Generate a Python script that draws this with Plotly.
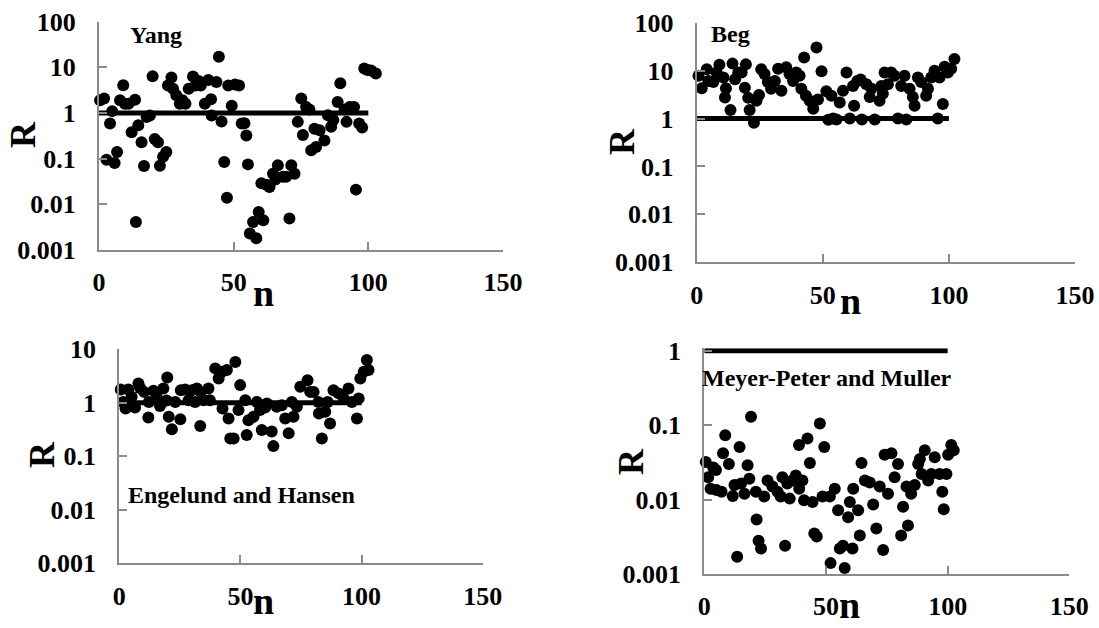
import plotly.graph_objects as go

# ---------------- data ----------------
n_yang = [0.4, 1.9, 2.8, 4.1, 4.9, 5.8, 6.7, 7.8, 9.0, 9.6, 11.0, 12.1, 13.4, 13.7, 14.6, 15.8, 16.7, 17.7, 18.9, 19.9,
          20.7, 21.9, 22.6, 23.8, 25.0, 25.6, 26.9, 27.5, 28.7, 30.0, 31.0, 32.1, 33.3, 34.9, 35.8, 37.0, 37.8, 39.3,
          40.6, 41.6, 41.8, 43.6, 44.5, 45.5, 46.5, 47.5, 48.0, 49.3, 50.5, 52.0, 53.0, 54.0, 54.7, 55.3, 56.0, 57.2,
          58.4, 59.3, 60.3, 61.0, 62.1, 63.3, 64.6, 65.5, 66.4, 68.3, 69.5, 70.7, 71.4, 72.6, 73.8, 75.1, 75.7, 76.9,
          78.1, 78.8, 80.0, 80.6, 81.9, 83.7, 85.0, 86.2, 87.0, 88.6, 89.6, 91.2, 91.9, 93.1, 94.7, 95.4, 96.6, 97.7,
          98.5, 99.7, 101.0, 102.8]
r_yang = [1.9, 2.07, 0.095, 0.59, 1.1, 0.08, 0.14, 1.9, 4.05, 1.6, 1.6, 0.38, 1.96, 0.0041, 0.54, 0.23, 0.069, 0.82,
          0.88, 6.4, 0.27, 0.23, 0.07, 0.11, 0.14, 4.0, 6.0, 3.4, 2.44, 1.6, 1.9, 1.6, 3.4, 6.3, 4.0, 5.0, 4.0, 1.6,
          5.3, 2.0, 0.88, 4.8, 17, 0.65, 0.085, 0.014, 4.0, 1.45, 4.2, 4.0, 0.59, 0.6, 0.32, 0.075, 0.0023, 0.0041,
          0.0018, 0.0068, 0.029, 0.0045, 0.027, 0.024, 0.047, 0.035, 0.072, 0.04, 0.04, 0.0049, 0.072, 0.047, 0.64,
          2.07, 0.33, 1.35, 1.2, 0.153, 0.45, 0.18, 0.42, 0.25, 0.89, 0.5, 0.7, 1.74, 4.5, 1.2, 0.64, 1.35, 1.35,
          0.021, 0.59, 0.48, 9.4, 8.7, 8.5, 7.3]

n_beg = [0.7, 2.0, 4.0, 4.6, 6.6, 7.9, 9.0, 10.6, 11.2, 11.6, 13.4, 14.2, 15.2, 16.5, 17.8, 19.1, 19.5, 20.4, 21.0,
         22.7, 23.7, 24.7, 25.6, 26.9, 28.2, 29.5, 31.0, 32.3, 33.6, 35.5, 36.8, 38.2, 39.5, 40.8, 41.5, 42.6, 43.3,
         44.8, 46.2, 47.5, 48.1, 49.5, 51.4, 52.2, 53.4, 54.1, 55.4, 56.7, 58.0, 59.4, 60.7, 62.0, 62.4, 63.7, 65.0,
         65.5, 67.3, 68.6, 69.3, 70.6, 72.5, 73.2, 73.8, 74.5, 75.8, 77.1, 78.4, 79.8, 81.1, 82.4, 83.1, 84.4, 85.7,
         86.4, 87.7, 89.0, 91.0, 91.7, 93.0, 94.3, 95.6, 96.3, 97.6, 98.3, 99.6, 100.9, 102.2]
r_beg = [7.8, 4.3, 10.7, 6.1, 5.8, 9.1, 13.2, 7.2, 2.74, 4.3, 1.5, 14, 6.6, 9.1, 9.1, 4.4, 13.5, 2.7, 1.5, 0.82, 2.34,
         3.1, 10.7, 8.5, 5.8, 4.2, 6.1, 11, 3.8, 11.7, 8.5, 6.1, 9.1, 7.8, 4.2, 18.8, 3.0, 2.34, 1.6, 30.4, 2.5, 9.7,
         3.7, 0.94, 3.0, 1.0, 0.96, 2.16, 3.8, 9.1, 1.0, 4.8, 1.84, 6.1, 6.5, 0.96, 5.2, 2.8, 4.2, 0.96, 2.34, 4.8,
         3.3, 9.1, 5.2, 9.1, 7.8, 1.0, 4.8, 7.8, 0.96, 4.2, 2.8, 1.84, 7.2, 5.8, 3.0, 4.2, 7.2, 9.9, 1.0, 7.2, 2.0,
         12, 9.1, 11, 17.4]

n_eh = [0.6, 1.6, 2.6, 3.7, 5.1, 6.5, 7.9, 8.6, 10.2, 12.0, 12.2, 14.1, 15.4, 16.8, 18.2, 19.8, 19.5, 20.4, 21.7,
        23.1, 25.2, 25.4, 27.2, 28.6, 30.0, 31.3, 32.0, 33.4, 33.6, 34.8, 36.8, 37.4, 39.6, 41.0, 42.4, 42.6, 44.4,
        45.1, 45.8, 47.2, 47.9, 49.2, 49.9, 52.0, 52.6, 53.3, 55.4, 56.8, 58.1, 58.8, 60.2, 60.9, 62.9, 63.6, 65.0,
        67.1, 68.5, 69.9, 71.2, 71.9, 73.3, 74.7, 77.7, 78.8, 80.2, 82.2, 82.4, 83.6, 85.0, 86.0, 87.0, 88.4, 90.5,
        92.6, 94.6, 96.0, 98.1, 98.8, 99.5, 100.9, 102.2, 102.9]
r_eh = [1.77, 1.04, 0.78, 1.77, 1.3, 0.82, 2.3, 1.9, 1.6, 0.53, 1.04, 1.68, 1.3, 0.87, 1.85, 2.97, 1.1, 0.55, 0.32,
        1.04, 0.49, 1.72, 1.77, 1.12, 1.72, 1.04, 1.85, 0.37, 1.6, 1.12, 1.85, 1.12, 4.4, 2.85, 3.8, 0.78, 4.1, 0.51,
        0.215, 0.215, 5.8, 0.73, 2.14, 1.12, 0.25, 0.47, 0.55, 1.04, 0.73, 0.31, 0.82, 0.97, 0.29, 0.155, 0.84, 0.9,
        0.51, 0.27, 1.04, 0.55, 0.84, 2.0, 2.65, 1.6, 1.6, 1.04, 0.63, 0.215, 0.68, 1.04, 0.41, 1.72, 1.5, 1.2, 1.85,
        1.04, 0.51, 1.2, 2.85, 3.8, 6.3, 4.1]

n_mpm = [0.6, 1.6, 2.6, 3.7, 4.8, 5.0, 7.1, 7.7, 8.6, 10.1, 11.7, 12.4, 13.5, 14.5, 15.1, 16.5, 17.8, 18.5, 19.2,
         21.2, 21.5, 22.3, 23.3, 24.6, 26.0, 28.0, 30.1, 31.4, 32.1, 33.2, 34.1, 35.1, 36.2, 37.6, 38.9, 39.0, 40.3,
         41.0, 42.4, 43.4, 44.5, 45.2, 46.2, 47.5, 48.6, 49.3, 51.6, 51.9, 53.6, 55.0, 55.7, 57.0, 57.7, 59.1, 59.8,
         60.9, 61.2, 63.2, 63.9, 64.6, 66.0, 68.0, 69.4, 70.7, 72.1, 73.5, 74.1, 75.5, 76.9, 78.2, 79.6, 80.9, 81.7,
         83.1, 83.7, 85.0, 86.5, 87.9, 88.6, 89.3, 90.6, 92.0, 93.3, 94.7, 96.7, 97.8, 98.4, 99.5, 100.2, 101.5, 102.5]
r_mpm = [0.032, 0.020, 0.014, 0.027, 0.025, 0.0134, 0.0127, 0.042, 0.073, 0.030, 0.0112, 0.0157, 0.0017, 0.051,
         0.0164, 0.012, 0.029, 0.019, 0.13, 0.0127, 0.0054, 0.0028, 0.0022, 0.011, 0.018, 0.015, 0.0127, 0.011,
         0.020, 0.0024, 0.0164, 0.0103, 0.018, 0.021, 0.054, 0.014, 0.018, 0.0098, 0.066, 0.031, 0.0093, 0.0035,
         0.0032, 0.105, 0.011, 0.051, 0.011, 0.0014, 0.014, 0.0072, 0.0022, 0.0024, 0.0012, 0.0058, 0.0093, 0.0022,
         0.014, 0.0072, 0.0033, 0.031, 0.018, 0.017, 0.0086, 0.0041, 0.015, 0.0021, 0.040, 0.012, 0.042, 0.020,
         0.030, 0.0033, 0.0080, 0.015, 0.0045, 0.012, 0.0157, 0.030, 0.035, 0.022, 0.046, 0.018, 0.022, 0.037,
         0.022, 0.0127, 0.0074, 0.022, 0.040, 0.054, 0.046]

ref_n = [0, 100]
ref_r = [1, 1]

x_ticks = [0, 50, 100, 150]
y_ticks_5 = [0.001, 0.01, 0.1, 1, 10, 100]
y_text_5 = ["0.001", "0.01", "0.1", "1", "10", "100"]
y_ticks_4 = [0.001, 0.01, 0.1, 1, 10]
y_text_4 = ["0.001", "0.01", "0.1", "1", "10"]
y_ticks_3 = [0.001, 0.01, 0.1, 1]
y_text_3 = ["0.001", "0.01", "0.1", "1"]

titles = ["Yang", "Beg", "Engelund and Hansen", "Meyer-Peter and Muller"]

# ---------------- layout helpers ----------------
W, H = 1099, 628
FONT = "Liberation Serif"
AX = "#8a8a8a"


def fx(p):
    return p / W


def fy(p):
    return 1 - p / H


# panel boxes in pixels: left, right, top, bottom
boxes = [(99, 503, 21.7, 250), (696.7, 1075, 22.7, 262.3),
         (119.3, 482.7, 349.3, 563.3), (704.3, 1069.3, 348.2, 574)]
yranges = [(-3, 2), (-3, 2), (-3, 1), (-3, 0.034)]
yt = [(y_ticks_5, y_text_5), (y_ticks_5, y_text_5), (y_ticks_4, y_text_4), (y_ticks_3, y_text_3)]
series = [(n_yang, r_yang), (n_beg, r_beg), (n_eh, r_eh), (n_mpm, r_mpm)]

fig = go.Figure()
layout = dict(width=W, height=H, autosize=False,
              margin=dict(l=0, r=0, t=0, b=0, pad=0, autoexpand=False),
              paper_bgcolor="white", plot_bgcolor="white", showlegend=False)

tickfont = dict(family=FONT, size=26, color="black", weight="bold")

for i, ((l, r, t, b), yr, (tv, tt), (xs, ys)) in enumerate(zip(boxes, yranges, yt, series)):
    k = "" if i == 0 else str(i + 1)
    layout["xaxis" + k] = dict(domain=[fx(l), fx(r)], anchor="y" + k, range=[0, 150], automargin=False,
                               tickvals=x_ticks, ticktext=[str(v) for v in x_ticks],
                               showgrid=False, zeroline=False, showline=True, linecolor=AX, linewidth=2,
                               ticks="inside", ticklen=8, tickwidth=2, tickcolor=AX,
                               tickfont=tickfont, ticklabelstandoff=8)
    layout["yaxis" + k] = dict(domain=[fy(b), fy(t)], anchor="x" + k, type="log", range=list(yr),
                               automargin=False, tickvals=tv, ticktext=tt,
                               showgrid=False, zeroline=False, showline=True, linecolor=AX, linewidth=2,
                               ticks="inside", ticklen=8, tickwidth=2, tickcolor=AX,
                               tickfont=tickfont, ticklabelstandoff=16)
    fig.add_trace(go.Scatter(x=ref_n, y=ref_r, mode="lines", line=dict(color="black", width=5),
                             xaxis="x" + k, yaxis="y" + k, cliponaxis=False, hoverinfo="skip"))
    fig.add_trace(go.Scatter(x=xs, y=ys, mode="markers", marker=dict(color="black", size=12),
                             xaxis="x" + k, yaxis="y" + k, cliponaxis=False))

ann = []
# panel titles (left edge, vertical centre in px)
for txt, (px, py) in zip(titles, [(128, 35), (709, 34), (126, 495), (700, 378)]):
    ann.append(dict(text=txt, x=fx(px), y=fy(py), xref="paper", yref="paper", xanchor="left", yanchor="middle",
                    showarrow=False, font=dict(family=FONT, size=24, color="black", weight="bold")))
# R labels
for (px, py) in [(23, 135), (622, 142), (42, 455), (631, 462)]:
    ann.append(dict(text="R", x=fx(px), y=fy(py), xref="paper", yref="paper", xanchor="center", yanchor="middle",
                    textangle=-90, showarrow=False, font=dict(family=FONT, size=36, color="black", weight="bold")))
# n labels (x centre, bottom edge of text box in px)
for (px, py) in [(263, 316), (850, 324), (263, 624), (849, 628)]:
    ann.append(dict(text="n", x=fx(px), y=fy(py), xref="paper", yref="paper", xanchor="center", yanchor="bottom",
                    showarrow=False, font=dict(family=FONT, size=38, color="black", weight="bold")))
layout["annotations"] = ann

fig.update_layout(**layout)
fig.write_html("out.html", config={"displayModeBar": False},
               post_script="document.body.style.margin='0';")
